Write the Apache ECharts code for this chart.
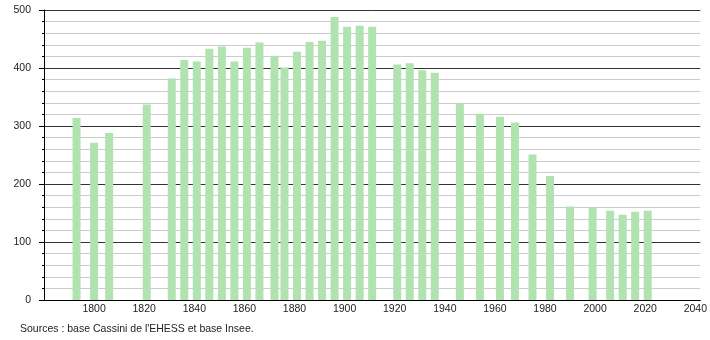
<!DOCTYPE html>
<html>
<head>
<meta charset="utf-8">
<script src="https://cdn.jsdelivr.net/npm/echarts@6/dist/echarts.min.js"></script>
<style>
html,body{margin:0;padding:0;background:#fff;}
#c{width:710px;height:340px;}
</style>
</head>
<body>
<div id="c"></div>
<script>
const years = [1793,1800,1806,1821,1831,1836,1841,1846,1851,1856,1861,1866,1872,1876,1881,1886,1891,1896,1901,1906,1911,1921,1926,1931,1936,1946,1954,1962,1968,1975,1982,1990,1999,2006,2011,2016,2021];
const population = [314,271,288,337,382,414,411,433,437,411,435,444,421,401,428,445,447,488,471,473,471,406,408,396,392,338,321,316,306,251,214,161,159,154,147,152,154];
const sourceText = "Sources : base Cassini de l'EHESS et base Insee.";

const chart = echarts.init(document.getElementById('c'));
const font = 'Liberation Sans, Arial, sans-serif';
chart.setOption({
  animation: false,
  backgroundColor: '#fff',
  grid: {left: 44, right: 9, top: 10, bottom: 40},
  xAxis: {
    type: 'value', min: 1780, max: 2042, interval: 20,
    axisLine: {show: true, lineStyle: {color: '#000', width: 1}},
    axisTick: {show: false},
    splitLine: {show: false},
    axisLabel: {
      color: '#222', fontFamily: font, fontSize: 10.5, margin: 4,
      formatter: v => (v % 20 === 0 && v !== 1780) ? String(v) : ''
    }
  },
  yAxis: {
    type: 'value', min: 0, max: 500, interval: 100,
    axisLine: {show: true, lineStyle: {color: '#000', width: 1}},
    axisTick: {show: true, length: 5, lineStyle: {color: '#000'}},
    minorTick: {show: true, splitNumber: 5, length: 2, lineStyle: {color: '#000'}},
    splitLine: {show: true, lineStyle: {color: '#333', width: 1}},
    minorSplitLine: {show: true, lineStyle: {color: '#ccc', width: 1}},
    axisLabel: {color: '#222', fontFamily: font, fontSize: 10.5, margin: 13}
  },
  series: [{
    type: 'bar',
    barWidth: 8,
    itemStyle: {color: '#b0e3b0'},
    data: years.map((y, i) => [y, population[i]])
  }],
  graphic: [{
    type: 'text', left: 20, top: 324,
    style: {text: sourceText, fill: '#222', font: '10.5px ' + font}
  }]
});
</script>
</body>
</html>
